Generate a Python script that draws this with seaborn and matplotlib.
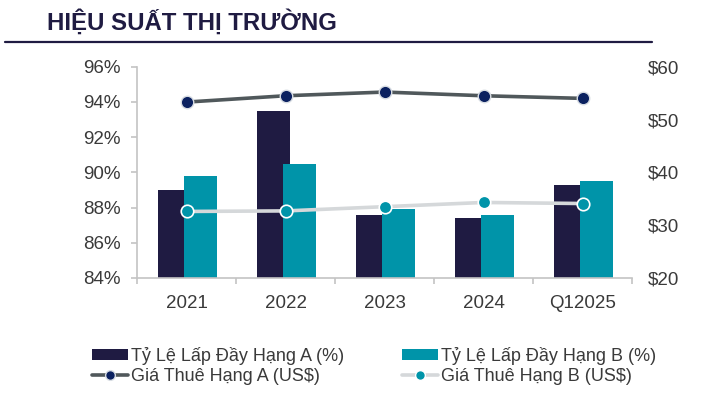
import numpy as np
import pandas as pd
import matplotlib
matplotlib.use("Agg")
import matplotlib.pyplot as plt
from matplotlib.patches import Patch
from matplotlib.lines import Line2D
import seaborn as sns

# data
periods = ['2021', '2022', '2023', '2024', 'Q12025']
occ_a = [89.0, 93.5, 87.6, 87.4, 89.3]     # Tỷ Lệ Lấp Đầy Hạng A (%)
occ_b = [89.8, 90.5, 87.9, 87.6, 89.5]     # Tỷ Lệ Lấp Đầy Hạng B (%)
rent_a = [53.3, 54.5, 55.2, 54.5, 54.0]    # Giá Thuê Hạng A (US$)
rent_b = [32.6, 32.7, 33.5, 34.3, 34.1]    # Giá Thuê Hạng B (US$)

lab_occ_a = 'Tỷ Lệ Lấp Đầy Hạng A (%)'
lab_occ_b = 'Tỷ Lệ Lấp Đầy Hạng B (%)'
lab_rent_a = 'Giá Thuê Hạng A (US$)'
lab_rent_b = 'Giá Thuê Hạng B (US$)'

NAVY = '#1f1b42'
TEAL = '#0094a9'
LINE_A = '#50585b'
MARK_A = '#0b2160'
LINE_B = '#d5d8da'
AXIS = '#c4c4c4'
TXT = '#3a3a3a'

sns.set_theme(style="white")
plt.rcParams['font.family'] = ['Liberation Sans', 'DejaVu Sans']

bars = pd.DataFrame({
    'period': periods * 2,
    'value': occ_a + occ_b,
    'series': [lab_occ_a] * len(periods) + [lab_occ_b] * len(periods),
})
lines = pd.DataFrame({'pos': np.arange(len(periods)), 'rent_a': rent_a, 'rent_b': rent_b})

fig = plt.figure(figsize=(7.05, 3.96), dpi=100)
ax = fig.add_axes([137 / 705, 1 - 278 / 396, 495 / 705, 211.3 / 396])

sns.barplot(data=bars, x='period', y='value', hue='series',
            palette=[NAVY, TEAL], width=0.667, dodge=True, saturation=1,
            legend=False, ax=ax, zorder=2, linewidth=0, edgecolor='none')
# B overlaps A a little, like the original clustered columns
for p in ax.containers[0]:
    p.set_x(p.get_x() + 0.045)
for p in ax.containers[1]:
    p.set_x(p.get_x() - 0.025)

ax.set_ylim(84, 96)
ax.set_yticks(np.arange(84, 97, 2))
ax.set_yticklabels([f'{v}%' for v in range(84, 97, 2)])
ax.set_xlabel('')
ax.set_ylabel('')

ax2 = ax.twinx()
sns.lineplot(data=lines, x='pos', y='rent_a', ax=ax2, color=LINE_A, linewidth=2.6,
             marker='o', markersize=9, markerfacecolor=MARK_A,
             markeredgecolor='#d8dde3', markeredgewidth=1.0, zorder=3)
sns.lineplot(data=lines, x='pos', y='rent_b', ax=ax2, color=LINE_B, linewidth=2.6,
             marker='o', markersize=9, markerfacecolor=TEAL,
             markeredgecolor='white', markeredgewidth=1.2, zorder=3)
ax2.set_ylim(20, 60)
ax2.set_yticks(np.arange(20, 61, 10))
ax2.set_yticklabels([f'${v}' for v in range(20, 61, 10)])
ax2.set_xlabel('')
ax2.set_ylabel('')

ax.set_xlim(-0.5, len(periods) - 0.5)
ax.set_xticks(np.arange(len(periods)))
ax.set_xticklabels(periods)
ax.set_xticks(np.arange(-0.5, len(periods)), minor=True)

for s in ['top', 'right']:
    ax.spines[s].set_visible(False)
for s in ['top', 'right', 'left', 'bottom']:
    ax2.spines[s].set_visible(False)
for s in ['left', 'bottom']:
    ax.spines[s].set_color(AXIS)
    ax.spines[s].set_linewidth(1.2)

ax.tick_params(axis='y', which='major', left=True, length=4.5, width=1.2, color=AXIS,
               pad=7.5, labelsize=13.5, labelcolor=TXT)
ax.tick_params(axis='x', which='major', length=0, pad=12, labelsize=13.5, labelcolor=TXT)
ax.tick_params(axis='x', which='minor', bottom=True, length=4.5, width=1.2, color=AXIS)
ax2.tick_params(axis='y', length=0, pad=11.5, labelsize=13.5, labelcolor=TXT)

# title with rule underneath
fig.text(47 / 705, 1 - 30 / 396, 'HIỆU SUẤT THỊ TRƯỜNG', fontsize=17.3, fontweight='bold',
         color=NAVY, va='baseline', ha='left')
fig.add_artist(Line2D([5 / 705, 652 / 705], [1 - 42 / 396, 1 - 42 / 396],
                      transform=fig.transFigure, color=NAVY, linewidth=1.6))

handles = [
    Patch(facecolor=NAVY, edgecolor='none'),
    Line2D([], [], color=LINE_A, linewidth=2.6, marker='o', markersize=7,
           markerfacecolor=MARK_A, markeredgecolor='#d8dde3'),
    Patch(facecolor=TEAL, edgecolor='none'),
    Line2D([], [], color=LINE_B, linewidth=2.6, marker='o', markersize=7,
           markerfacecolor=TEAL, markeredgecolor='white'),
]
labels = [lab_occ_a, lab_rent_a, lab_occ_b, lab_rent_b]
fig.legend(handles, labels, loc='upper left', bbox_to_anchor=(92 / 705, 1 - 347 / 396),
           ncol=2, frameon=False, fontsize=13, labelcolor=TXT, handlelength=2.0,
           handleheight=0.6, handletextpad=0.15, columnspacing=3.2, labelspacing=0.15,
           borderpad=0, borderaxespad=0)

fig.savefig('out.png', dpi=100)
